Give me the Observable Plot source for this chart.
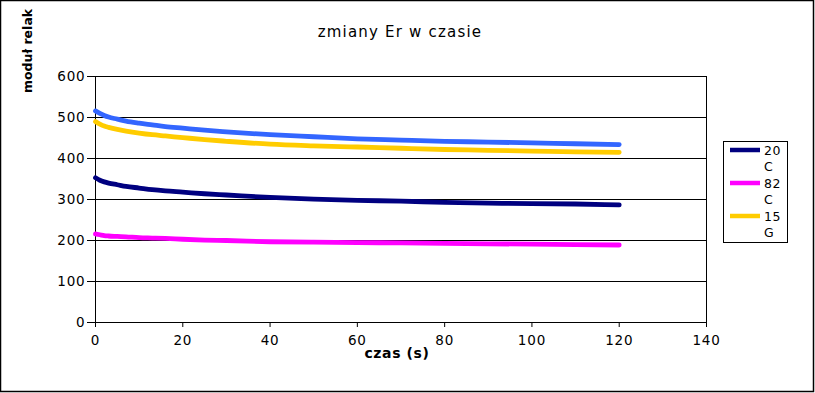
<!DOCTYPE html>
<html><head><meta charset="utf-8">
<script src="https://cdn.jsdelivr.net/npm/d3@7"></script>
<script src="https://cdn.jsdelivr.net/npm/@observablehq/plot@0.6"></script>
<style>
body{margin:0;background:#fff;}
#chart{position:relative;width:815px;height:393px;}
</style>
</head><body><div id="chart"></div>
<script>
const time = [0, 1, 2, 3, 5, 7, 10, 13, 16, 20, 25, 30, 40, 50, 60, 70, 80, 90, 100, 110, 120];
const blue =    [516, 510, 505, 501, 496, 491, 486, 482, 478, 474, 469, 465, 458, 453, 448, 445, 442, 440, 438, 436, 434];
const c20 =     [353, 347, 343, 340, 336, 332, 328, 324, 321, 318, 314, 311, 305, 301, 298, 296, 293, 291, 290, 289, 287];
const c82 =     [216, 214, 212, 211, 210, 209, 207, 206, 205, 203, 201, 200, 197, 196, 195, 194, 193, 192, 191, 190, 189];
const g15 =     [490, 484, 479, 476, 471, 467, 462, 458, 455, 451, 446, 442, 435, 431, 428, 425, 422, 420, 418, 416, 415];
const seriesNames = ["", "20\nC", "82\nC", "15\nG"];
const seriesColors = ["#3366ff", "#000080", "#ff00ff", "#ffcc00"];
const seriesValues = [blue, c20, c82, g15];
const yTicks = [0, 100, 200, 300, 400, 500, 600];
const xTicks = [0, 20, 40, 60, 80, 100, 120, 140];
const title = "zmiany Er w czasie";
const xLabel = "czas (s)";
const yLabel = "moduł relak";

const rows = [];
seriesValues.forEach((vals, i) => vals.forEach((v, j) => rows.push({t: time[j], v, s: i})));

const font = "DejaVu Sans, sans-serif";
const plot = Plot.plot({
  width: 815, height: 393,
  marginLeft: 95, marginRight: 109, marginTop: 76, marginBottom: 71,
  style: {fontFamily: font, fontSize: "13px", color: "#000", background: "#fff"},
  x: {domain: [0, 140], label: null},
  y: {domain: [0, 600], label: null},
  marks: [
    Plot.ruleY(yTicks, {stroke: "#000", strokeWidth: 1}),
    Plot.ruleX([0, 140], {stroke: "#000", strokeWidth: 1}),
    Plot.axisX({ticks: xTicks, tickSize: 5, tickPadding: 8, fontSize: 13.5, label: null}),
    Plot.axisY({ticks: yTicks, tickSize: 8, tickPadding: 2, fontSize: 13.5, label: null}),
    Plot.line(rows, {x: "t", y: "v", z: "s", stroke: d => seriesColors[d.s], strokeWidth: 4.8, curve: "monotone-x"})
  ]
});
const svg = d3.select(plot);
svg.selectAll("[aria-label$='tick label'] text").attr("letter-spacing", "0.8px");
// outer border
svg.append("rect").attr("x", 0.5).attr("y", 0.5).attr("width", 813).attr("height", 391)
  .attr("fill", "none").attr("stroke", "#000").attr("stroke-width", 1.5);
// title
svg.append("text").attr("x", 400).attr("y", 37).attr("text-anchor", "middle")
  .attr("font-size", 15).attr("letter-spacing", "1.2px").attr("font-family", font).text(title);
// x label
svg.append("text").attr("x", 397).attr("y", 358).attr("text-anchor", "middle")
  .attr("font-size", 14).attr("letter-spacing", "0.6px").attr("font-weight", "bold").attr("font-family", font).text(xLabel);
// y label
svg.append("text").attr("transform", "translate(32,93) rotate(-90)").attr("text-anchor", "start")
  .attr("font-size", 12.5).attr("font-weight", "bold").attr("font-family", font).text(yLabel);
// legend
const lg = svg.append("g");
lg.append("rect").attr("x", 723.5).attr("y", 141.5).attr("width", 64).attr("height", 101)
  .attr("fill", "#fff").attr("stroke", "#000").attr("stroke-width", 1);
const legendRows = [1, 2, 3];
legendRows.forEach((i, k) => {
  const y0 = 150 + k * 33;
  lg.append("line").attr("x1", 730).attr("x2", 760).attr("y1", y0).attr("y2", y0)
    .attr("stroke", seriesColors[i]).attr("stroke-width", 4.5);
  const parts = seriesNames[i].split("\n");
  parts.forEach((p, m) => {
    lg.append("text").attr("x", 764).attr("y", y0 + 5 + m * 16).attr("font-size", 12.5)
      .attr("text-anchor", "start").attr("letter-spacing", "0.5px")
      .attr("font-family", font).text(p);
  });
});
document.getElementById("chart").appendChild(plot);
</script>
</body></html>
